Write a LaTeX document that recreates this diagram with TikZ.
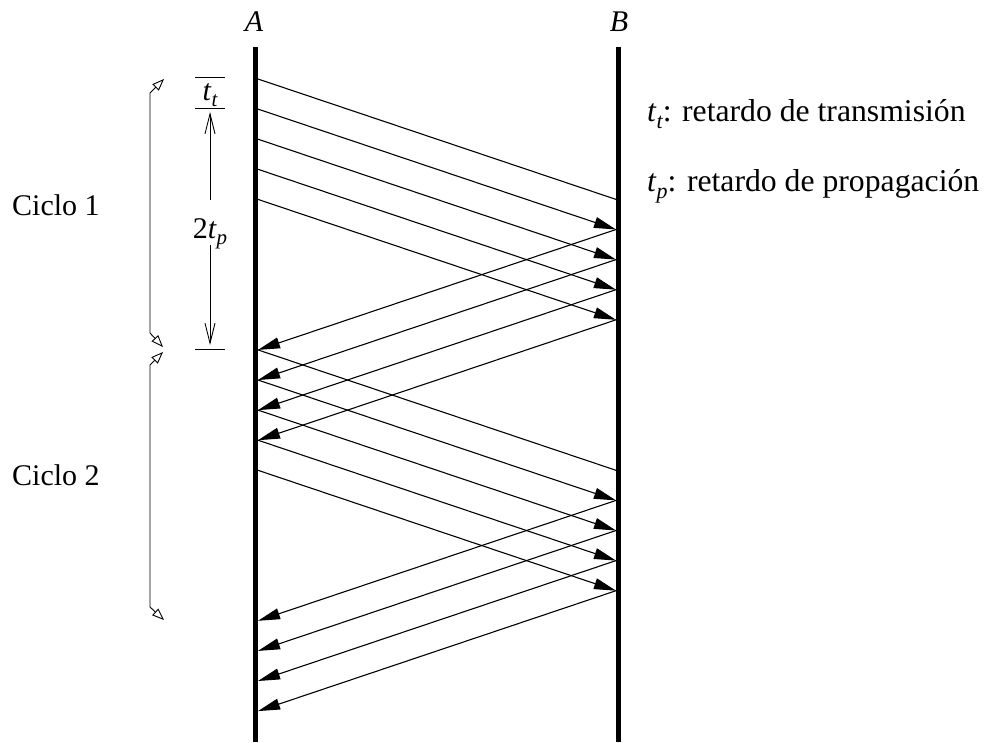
\documentclass[tikz,border=0pt]{standalone}
\usepackage{fontspec}
\setmainfont{Liberation Serif}
\usetikzlibrary{arrows.meta}
\newcommand\mysub[1]{\raisebox{-0.22em}{\fontsize{21}{21}\selectfont\itshape #1}}
\newcommand\mylegsub[1]{\raisebox{-0.22em}{\fontsize{22}{22}\selectfont\itshape #1}}
\begin{document}
\begin{tikzpicture}[x=1pt,y=-1pt,
  lbl/.style={font=\fontsize{30}{36}\selectfont, inner sep=0pt},
  leglbl/.style={font=\fontsize{31.7}{38}\selectfont, inner sep=0pt},
  lifeline/.style={line width=5.5pt},
  msg/.style={line width=1.1pt},
  msgarrow/.style={msg, -{Triangle[length=22pt,width=11pt]}},
  cyc/.style={line width=0.9pt, {Triangle[open,length=12pt,width=9pt]}-{Triangle[open,length=12pt,width=9pt]}},
  dimend/.style={line width=0.9pt, -{Straight Barb[length=20pt,width=10pt]}},
  tick/.style={line width=0.8pt},
]
\useasboundingbox (0,0) rectangle (987,742);

% lifelines
\coordinate (Atop) at (255.5,47); \coordinate (Abot) at (255.5,742);
\coordinate (Btop) at (618.5,47); \coordinate (Bbot) at (618.5,742);
\draw[lifeline] (Atop) -- (Abot);
\draw[lifeline] (Btop) -- (Bbot);
\node[lbl] (lA) at (254,22) {\textit{A}};
\node[lbl] (lB) at (619,22) {\textit{B}};

% frames and acknowledgements
\foreach \c in {0,1} {
  \pgfmathsetmacro{\yz}{79+9*30.1*\c}
  \foreach \k in {0,...,4} {
    \coordinate (s\c\k) at (258,{\yz+30.1*\k});
    \coordinate (e\c\k) at (616,{\yz+120.4+30.1*\k});
  }
  \foreach \k in {1,...,4} {
    \coordinate (r\c\k) at (258,{\yz+240.8+30.1*\k});
  }
  \draw[msg] (s\c0) -- (e\c0);
  \foreach \k in {1,...,4} {
    \draw[msgarrow] (s\c\k) -- (e\c\k);
    \draw[msgarrow] (e\c\k) -- (r\c\k);
  }
}

% cycle markers
\coordinate (c1t) at (164,79);  \coordinate (c1a) at (150,93);
\coordinate (c1b) at (150,333); \coordinate (c1e) at (163,347);
\draw[cyc] (c1t) -- (c1a) -- (c1b) -- (c1e);
\coordinate (c2t) at (163,352); \coordinate (c2a) at (150,365);
\coordinate (c2b) at (150,607); \coordinate (c2e) at (164,620);
\draw[cyc] (c2t) -- (c2a) -- (c2b) -- (c2e);
\node[lbl, anchor=base west] (cy1) at (12,215) {Ciclo 1};
\node[lbl, anchor=base west] (cy2) at (12,485) {Ciclo 2};

% t_t and 2t_p dimensions
\coordinate (k1a) at (195,77);  \coordinate (k1b) at (225,77);
\coordinate (k2a) at (195,108); \coordinate (k2b) at (225,108);
\coordinate (k3a) at (195,349); \coordinate (k3b) at (225,349);
\draw[tick] (k1a) -- (k1b);
\draw[tick] (k2a) -- (k2b);
\draw[tick] (k3a) -- (k3b);
\node[lbl, anchor=base] (tt) at (210,100) {\textit{t}\mysub{t}};
\coordinate (d1) at (210,112); \coordinate (g1) at (210,200);
\coordinate (g2) at (210,245); \coordinate (d2) at (210,345);
\draw[dimend] (g1) -- (d1);
\draw[dimend] (g2) -- (d2);
\node[lbl, anchor=base] (tp) at (210,238) {2\textit{t}\mysub{p}};

% legend
\node[leglbl, anchor=base west] (leg1) at (647,121.7) {\textit{t}\mylegsub{t}: retardo de transmisión};
\node[leglbl, anchor=base west] (leg2) at (647,191.7) {\textit{t}\mylegsub{p}: retardo de propagación};
\end{tikzpicture}
\end{document}
